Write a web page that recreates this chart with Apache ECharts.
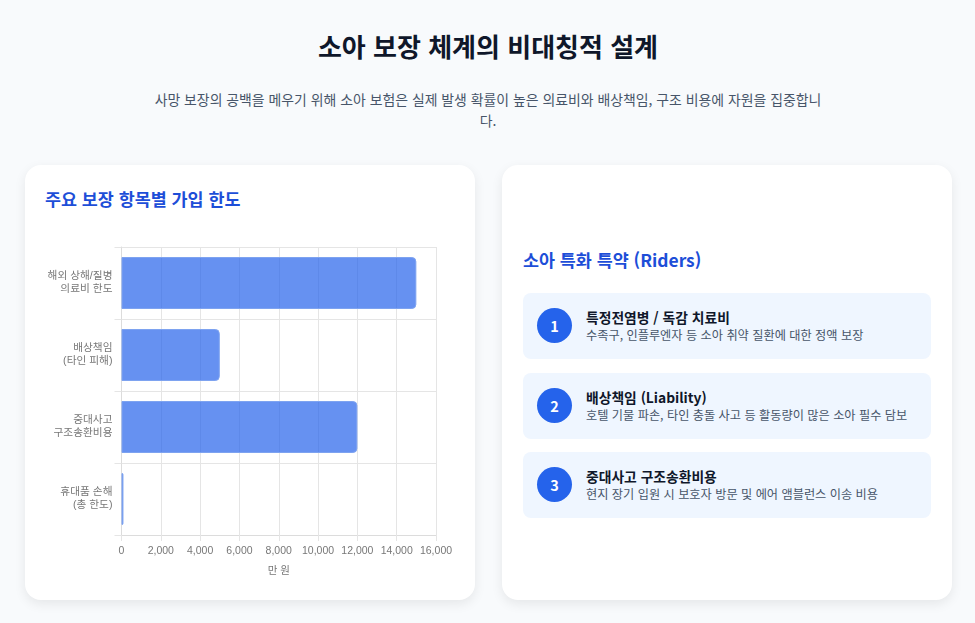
<!DOCTYPE html>
<html lang="ko"><head><meta charset="utf-8">
<script src="https://cdn.jsdelivr.net/npm/echarts@6/dist/echarts.min.js"></script>
<style>
*{box-sizing:border-box;margin:0;padding:0}
html,body{width:975px;height:623px;overflow:hidden;background:#f8fafc;font-family:"Noto Sans CJK KR","Noto Sans",sans-serif}
#t{position:absolute;left:0;width:976px;top:25px;text-align:center;font-size:26px;font-weight:700;color:#0f172a;line-height:42px}
#s{position:absolute;left:148px;width:680px;top:89px;text-align:center;font-size:13.9px;line-height:21px;color:#475569}
.card{position:absolute;top:165px;height:435px;background:#fff;border-radius:16px;box-shadow:0 4px 12px rgba(0,0,0,.08)}
h2{position:absolute;font-size:17.4px;font-weight:700;color:#1d4ed8;line-height:26px;white-space:nowrap}
#chart{position:absolute;left:25px;top:230px;width:450px;height:360px}
.rider{position:absolute;left:523px;width:408px;height:66px;background:#eff6ff;border-radius:8px}
.num{position:absolute;left:14px;top:15px;width:35px;height:35px;border-radius:50%;background:#2563eb;color:#fff;font-weight:700;font-size:14.5px;line-height:35px;text-align:center}
.a{position:absolute;left:63px;top:14px;font-size:13.8px;font-weight:700;color:#0f172a;line-height:20px;white-space:nowrap}
.b{position:absolute;left:63px;top:33px;font-size:12.2px;color:#475569;line-height:18px;white-space:nowrap}
</style></head><body>
<div id="t"></div><div id="s"></div>
<div class="card" style="left:25px;width:450px"></div>
<div class="card" style="left:502px;width:450px"></div>
<h2 style="left:45px;top:186px" id="h1"></h2>
<h2 style="left:523px;top:247px" id="h2"></h2>
<div id="chart"></div>
<div id="riders"></div>
<script>
const pageTitle = "소아 보장 체계의 비대칭적 설계";
const pageSubtitle = "사망 보장의 공백을 메우기 위해 소아 보험은 실제 발생 확률이 높은 의료비와 배상책임, 구조 비용에 자원을 집중합니다.";
const chartTitle = "주요 보장 항목별 가입 한도";
const riderTitle = "소아 특화 특약 (Riders)";
const categories = ["해외 상해/질병\n의료비 한도", "배상책임\n(타인 피해)", "중대사고\n구조송환비용", "휴대품 손해\n(총 한도)"];
const limits = [15000, 5000, 12000, 100];
const axisName = "만 원";
const riderNames = ["특정전염병 / 독감 치료비", "배상책임 (Liability)", "중대사고 구조송환비용"];
const riderDescs = ["수족구, 인플루엔자 등 소아 취약 질환에 대한 정액 보장", "호텔 기물 파손, 타인 충돌 사고 등 활동량이 많은 소아 필수 담보", "현지 장기 입원 시 보호자 방문 및 에어 앰블런스 이송 비용"];
const riderTops = [293, 373, 452];

document.getElementById('t').textContent = pageTitle;
document.getElementById('s').textContent = pageSubtitle;
document.getElementById('h1').textContent = chartTitle;
document.getElementById('h2').textContent = riderTitle;
document.getElementById('riders').innerHTML = riderNames.map((n,i)=>`<div class="rider" style="top:${riderTops[i]}px"><div class="num">${i+1}</div><div class="a">${n}</div><div class="b">${riderDescs[i]}</div></div>`).join('');

const font = '"Liberation Sans", "Noto Sans CJK KR", sans-serif';
const chart = echarts.init(document.getElementById('chart'), null, {renderer:'canvas'});
chart.setOption({
  animation:false,
  grid:{left:96.5,right:39,top:17,bottom:55,containLabel:false},
  xAxis:{type:'value',min:0,max:16000,interval:2000,
    name:axisName,nameLocation:'middle',nameGap:31,
    nameTextStyle:{color:'#777',fontSize:10.5,fontFamily:font},
    axisLine:{show:true,lineStyle:{color:'#dcdcdc'}},
    axisTick:{show:true,length:6,lineStyle:{color:'#e5e5e5'}},
    axisLabel:{color:'#777',fontSize:10.5,margin:11,fontFamily:font,formatter:v=>v.toLocaleString('en-US'),hideOverlap:false,showMinLabel:true,showMaxLabel:true},
    splitLine:{show:true,lineStyle:{color:'#e5e5e5'}}},
  yAxis:{type:'category',inverse:true,data:categories,
    axisLine:{show:true,lineStyle:{color:'#dcdcdc'}},
    axisTick:{show:true,length:7,lineStyle:{color:'#e5e5e5'}},
    axisLabel:{color:'#777',fontSize:10.7,lineHeight:13,margin:9,fontFamily:font,align:'right'},
    splitLine:{show:true,lineStyle:{color:'#e5e5e5'}}},
  series:[{type:'bar',data:limits,barWidth:52,
    itemStyle:{color:'rgba(37,99,235,0.7)',borderColor:'#7ea3f0',borderWidth:1,borderRadius:[0,4,4,0]}}]
});
</script></body></html>
